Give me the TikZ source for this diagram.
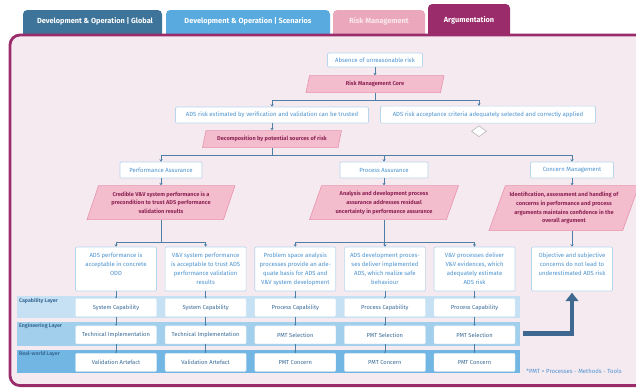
\documentclass[tikz,border=0pt]{standalone}
\usepackage{fontspec}
\setmainfont{Fira Sans}
\usepackage{xcolor}
\usepackage{tikz}
\usetikzlibrary{
    positioning,      % For relative node placement
    arrows.meta,      % For arrow tips
    calc,             % For coordinate calculations
    shapes.geometric  % For the parallelograms and the diamond
}
\definecolor{tabglobal}{HTML}{3E7499}
\definecolor{tabscen}{HTML}{58AADF}
\definecolor{tabrisk}{HTML}{EBA8BC}
\definecolor{argcolor}{HTML}{9B2C6B}
\definecolor{panelbg}{HTML}{F6EAF1}
\definecolor{boxborder}{HTML}{B7D6EC}
\definecolor{boxtext}{HTML}{4C93CF}
\definecolor{claimfill}{HTML}{F4BDCD}
\definecolor{claimborder}{HTML}{E795AF}
\definecolor{claimtext}{HTML}{8E2556}
\definecolor{linkcolor}{HTML}{4D7FA7}
\definecolor{capband}{HTML}{C6E1F3}
\definecolor{engband}{HTML}{A2CFEB}
\definecolor{realband}{HTML}{72B7E3}
\definecolor{layertext}{HTML}{3B6C98}
\definecolor{bigarrow}{HTML}{3F6890}

\begin{document}
\begin{tikzpicture}

    % --- Style Definitions ---
    \tikzset{
        % White boxes with blue text (goals)
        box/.style={
            rectangle,
            rounded corners=1.5pt,
            draw=boxborder,
            line width=0.9pt,
            fill=white,
            text=boxtext,
            font=\fontsize{8.5}{12.8}\selectfont,
            align=center,
            inner sep=2pt
        },
        % Pink parallelograms (strategies)
        claim/.style={
            trapezium,
            trapezium left angle=64,
            trapezium right angle=116,
            trapezium stretches body,
            draw=claimborder,
            line width=0.9pt,
            fill=claimfill,
            text=claimtext,
            font=\fontsize{8}{12.5}\selectfont\bfseries,
            align=center,
            inner sep=1pt
        },
        % Boxes inside the layer bands
        layerbox/.style={
            rectangle,
            rounded corners=1.5pt,
            fill=white,
            draw=boxborder!50,
            line width=0.6pt,
            text=layertext,
            font=\fontsize{8.2}{9}\selectfont,
            minimum width=4.05cm,
            minimum height=0.9cm
        },
        band/.style={rectangle, inner sep=0pt, minimum width=25.15cm},
        layerlabel/.style={
            anchor=north west,
            text=layertext,
            font=\fontsize{7.5}{8}\selectfont\bfseries,
            inner sep=3pt
        },
        tablabel/.style={text=white, font=\fontsize{10.5}{12}\selectfont\bfseries},
        % Connectors
        arrow/.style={
            -{Stealth[length=3.5pt,width=4.5pt]},
            line width=1.4pt,
            linkcolor
        },
        smallarrow/.style={
            -{Stealth[length=2.5pt,width=3pt]},
            line width=0.8pt,
            linkcolor
        },
        uparrow/.style={
            -{Triangle[length=12pt,width=18pt]},
            line width=6pt,
            bigarrow
        }
    }

    \clip (0,0) rectangle (31.8,-19.5);

    % --- Tabs and Frame ---
    \fill[tabglobal, rounded corners=6pt] (1.15,-2.5) rectangle (8.1,-0.5);
    \fill[tabscen, rounded corners=6pt] (8.3,-2.5) rectangle (16.5,-0.5);
    \fill[tabrisk, rounded corners=6pt] (16.65,-2.5) rectangle (21.25,-0.5);
    \fill[argcolor, rounded corners=6pt] (21.4,-2.5) rectangle (25.5,-0.2);

    \node[tablabel] (tab1) at (4.75,-1.05) {Development \& Operation | Global};
    \node[tablabel] (tab2) at (12.4,-1.05) {Development \& Operation | Scenarios};
    \node[tablabel, text=tabrisk!25] (tab3) at (18.95,-1.05) {Risk Management};
    \node[tablabel] (tab4) at (23.45,-1.0) {Argumentation};

    \draw[argcolor, line width=4pt, fill=panelbg, rounded corners=0.5cm]
        (0.5,-1.75) rectangle (33,-19.28);

    % --- Node Placement ---
    % Top of the argument
    \node[box, minimum width=4.75cm, minimum height=0.7cm] (absence) at (18.75,-3.0)
        {Absence of unreasonable risk};

    \node[claim, minimum width=6.9cm, minimum height=0.85cm,
          below=0.4cm of absence] (rmc) {Risk Management Core};

    \node[box, minimum width=9.65cm, minimum height=0.8cm] (adstrust) at (13.6,-5.75)
        {ADS risk estimated by verification and validation can be trusted};

    \node[box, minimum width=10.75cm, minimum height=0.85cm] (adsaccept) at (24.4,-5.73)
        {ADS risk acceptance criteria adequately selected and correctly applied};

    \node[diamond, draw=gray!55, fill=white, line width=0.9pt, inner sep=0pt,
          minimum width=0.75cm, minimum height=0.55cm,
          below=0.1cm of adsaccept, xshift=-0.45cm] (undev) {};

    \node[claim, minimum width=6.95cm, minimum height=0.85cm,
          below=0.35cm of adstrust] (decomp) {Decomposition by potential sources of risk};

    % The three assurance branches
    \node[box, minimum width=4.1cm, minimum height=0.8cm] (perf) at (8.05,-8.5)
        {Performance Assurance};
    \node[box, minimum width=4.4cm, minimum height=0.8cm] (proc) at (19.2,-8.5)
        {Process Assurance};
    \node[box, minimum width=4.15cm, minimum height=0.8cm] (conc) at (28.6,-8.5)
        {Concern Management};

    \node[claim, minimum width=7.4cm, minimum height=1.7cm, below=0.35cm of perf] (perfclaim)
        {Credible V\&V system performance is a\\precondition to trust ADS performance\\validation results};
    \node[claim, minimum width=7.45cm, minimum height=1.7cm, below=0.35cm of proc] (procclaim)
        {Analysis and development process\\assurance addresses residual\\uncertainty in performance assurance};
    \node[claim, minimum width=7.5cm, minimum height=2.25cm,
          below=0.35cm of conc, xshift=-0.4cm] (concclaim)
        {Identification, assessment and handling of\\concerns in performance and process\\arguments maintains confidence in the\\overall argument};

    % Goals above the layers
    \node[box, minimum width=4.05cm, minimum height=2.2cm] (odd) at (5.8,-13.45)
        {ADS performance is\\acceptable in concrete\\ODD\\~};
    \node[box, minimum width=4.05cm, minimum height=2.2cm, right=0.4cm of odd] (vvperf)
        {V\&V system performance\\is acceptable to trust ADS\\performance validation\\results};
    \node[box, minimum width=4.05cm, minimum height=2.2cm, right=0.4cm of vvperf] (probspace)
        {Problem space analysis\\processes provide an ade-\\quate basis for ADS and\\V\&V system development};
    \node[box, minimum width=4.05cm, minimum height=2.2cm, right=0.4cm of probspace] (adsdev)
        {ADS development proces-\\ses deliver implemented\\ADS, which realize safe\\behaviour};
    \node[box, minimum width=4.05cm, minimum height=2.2cm, right=0.4cm of adsdev] (vvproc)
        {V\&V processes deliver\\V\&V evidences, which\\adequately estimate\\ADS risk};
    \node[box, minimum width=4.05cm, minimum height=2.2cm] (objconc) at (28.6,-13.45)
        {Objective and subjective\\concerns do not lead to\\underestimated ADS risk\\~};

    % Layer bands
    \node[band, fill=capband, minimum height=1.1cm] (capband) at (13.425,-15.35) {};
    \node[band, fill=engband, minimum height=1.2cm] (engband) at (13.425,-16.675) {};
    \node[band, fill=realband, minimum height=1.15cm] (realband) at (13.425,-18.05) {};

    \node[layerlabel] (caplabel) at (capband.north west) {Capability Layer};
    \node[layerlabel] (englabel) at (engband.north west) {Engineering Layer};
    \node[layerlabel] (reallabel) at (realband.north west) {Real-world Layer};

    \node[layerbox, below=0.35cm of odd] (cap1) {System Capability};
    \node[layerbox, below=0.35cm of vvperf] (cap2) {System Capability};
    \node[layerbox, below=0.35cm of probspace] (cap3) {Process Capability};
    \node[layerbox, below=0.35cm of adsdev] (cap4) {Process Capability};
    \node[layerbox, below=0.35cm of vvproc] (cap5) {Process Capability};

    \node[layerbox, below=0.45cm of cap1] (eng1) {Technical Implementation};
    \node[layerbox, below=0.45cm of cap2] (eng2) {Technical Implementation};
    \node[layerbox, below=0.45cm of cap3] (eng3) {PMT Selection};
    \node[layerbox, below=0.45cm of cap4] (eng4) {PMT Selection};
    \node[layerbox, below=0.45cm of cap5] (eng5) {PMT Selection};

    \node[layerbox, below=0.45cm of eng1] (real1) {Validation Artefact};
    \node[layerbox, below=0.45cm of eng2] (real2) {Validation Artefact};
    \node[layerbox, below=0.45cm of eng3] (real3) {PMT Concern};
    \node[layerbox, below=0.45cm of eng4] (real4) {PMT Concern};
    \node[layerbox, below=0.45cm of eng5] (real5) {PMT Concern};

    \node[text=boxtext, font=\fontsize{8.5}{10}\selectfont] (pmtnote) at (28.7,-18.55)
        {*PMT = Processes - Methods - Tools};

    % --- Drawing Connections ---

    % 1. Top chain
    \draw[arrow] (absence.south) -- (rmc.north);
    \coordinate (split1) at ($(rmc.south)+(0,-0.4)$);
    \draw[arrow] (rmc.south) -- (split1) -| (adstrust.north);
    \draw[arrow] (split1) -| ([xshift=-0.45cm]adsaccept.north);
    \draw[arrow] (adstrust.south) -- (decomp.north);

    % 2. Decomposition into the three branches
    \coordinate (split2) at ($(decomp.south)+(0,-0.4)$);
    \draw[arrow] (decomp.south) -- (split2) -| (perf.north);
    \draw[arrow] (split2) -| (proc.north);
    \draw[arrow] (split2) -| (conc.north);
    \draw[arrow] (perf.south) -- (perfclaim.north);
    \draw[arrow] (proc.south) -- (procclaim.north);
    \draw[arrow] (conc.south) -- (conc.south |- concclaim.north);

    % 3. Strategies to goals
    \coordinate (split3) at ($(perfclaim.south |- odd.north)+(0,0.2)$);
    \draw[arrow] (perfclaim.south) -- (split3) -| (odd.north);
    \draw[arrow] (split3) -| (vvperf.north);
    \coordinate (split4) at ($(procclaim.south |- odd.north)+(0,0.2)$);
    \draw[arrow] (procclaim.south) -- (split4) -| (probspace.north);
    \draw[arrow] (split4) -| (adsdev.north);
    \draw[arrow] (split4) -| (vvproc.north);
    \draw[arrow] (conc.south |- concclaim.south) -- (objconc.north);

    % 4. Goals down through the layers
    \draw[smallarrow] (odd) edge (cap1) (cap1) edge (eng1) (eng1) edge (real1);
    \draw[smallarrow] (vvperf) edge (cap2) (cap2) edge (eng2) (eng2) edge (real2);
    \draw[smallarrow] (probspace) edge (cap3) (cap3) edge (eng3) (eng3) edge (real3);
    \draw[smallarrow] (adsdev) edge (cap4) (cap4) edge (eng4) (eng4) edge (real4);
    \draw[smallarrow] (vvproc) edge (cap5) (cap5) edge (eng5) (eng5) edge (real5);

    % 5. Layers feed the concern goal
    \draw[uparrow, shorten <=0.15cm, shorten >=2pt] (engband.east) -| (objconc.south);

\end{tikzpicture}
\end{document}
